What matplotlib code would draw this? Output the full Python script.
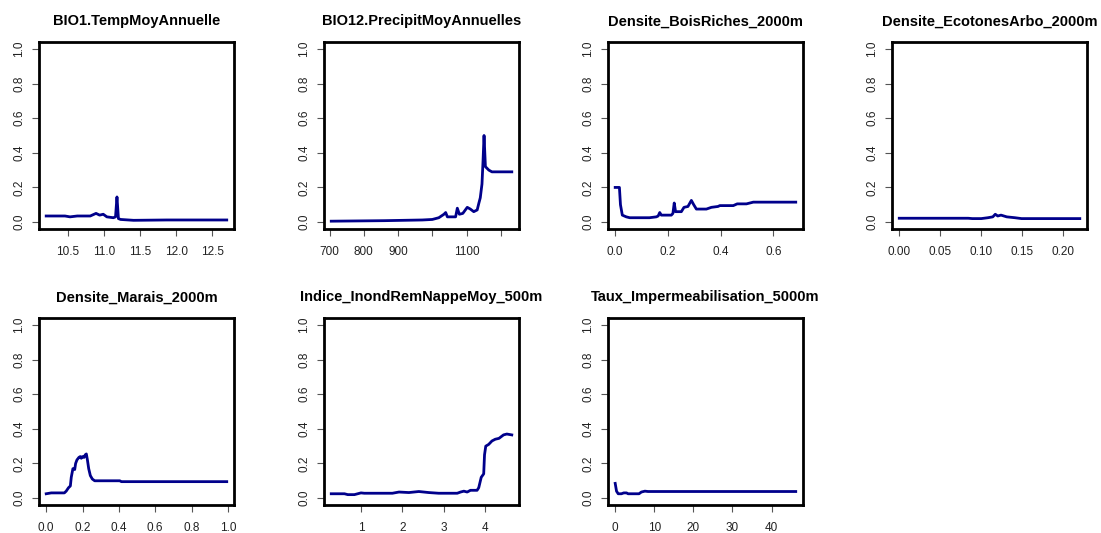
import matplotlib
matplotlib.use("Agg")
import matplotlib.pyplot as plt

plt.rcParams['font.family'] = ['Liberation Sans', 'DejaVu Sans']

# response curves
bio1_x = [10.2, 10.46, 10.53, 10.63, 10.81, 10.89, 10.94, 10.99, 11.04, 11.13, 11.16, 11.18, 11.2, 11.23, 11.41, 11.87, 12.7]
bio1_y = [0.035, 0.035, 0.03, 0.035, 0.035, 0.05, 0.04, 0.045, 0.03, 0.025, 0.03, 0.145, 0.02, 0.015, 0.01, 0.012, 0.012]

bio12_x = [705, 860, 971, 1000, 1019, 1034, 1039, 1044, 1068, 1073, 1079, 1089, 1102, 1111, 1121, 1131, 1136, 1140, 1145, 1148, 1151, 1155, 1165, 1174, 1232]
bio12_y = [0.005, 0.008, 0.012, 0.015, 0.025, 0.045, 0.055, 0.03, 0.03, 0.08, 0.045, 0.05, 0.085, 0.075, 0.06, 0.07, 0.11, 0.14, 0.22, 0.35, 0.5, 0.32, 0.30, 0.29, 0.29]

bois_x = [0.0, 0.016, 0.02, 0.027, 0.042, 0.055, 0.13, 0.156, 0.163, 0.169, 0.175, 0.213, 0.219, 0.224, 0.229, 0.251, 0.261, 0.276, 0.289, 0.298, 0.308, 0.346, 0.365, 0.39, 0.397, 0.448, 0.463, 0.498, 0.524, 0.685]
bois_y = [0.2, 0.2, 0.1, 0.04, 0.03, 0.025, 0.025, 0.03, 0.035, 0.055, 0.04, 0.04, 0.05, 0.11, 0.06, 0.06, 0.085, 0.09, 0.125, 0.10, 0.075, 0.075, 0.085, 0.09, 0.095, 0.095, 0.105, 0.105, 0.115, 0.115]

ecot_x = [0.0, 0.084, 0.089, 0.1, 0.108, 0.114, 0.117, 0.12, 0.124, 0.131, 0.141, 0.149, 0.22]
ecot_y = [0.022, 0.022, 0.02, 0.02, 0.025, 0.03, 0.045, 0.035, 0.04, 0.03, 0.025, 0.02, 0.02]

marais_x = [0.0, 0.028, 0.1, 0.11, 0.123, 0.133, 0.138, 0.147, 0.157, 0.162, 0.169, 0.18, 0.188, 0.193, 0.2, 0.208, 0.215, 0.221, 0.227, 0.234, 0.243, 0.254, 0.267, 0.405, 0.414, 0.994]
marais_y = [0.025, 0.03, 0.03, 0.04, 0.06, 0.07, 0.12, 0.17, 0.165, 0.2, 0.22, 0.235, 0.24, 0.23, 0.24, 0.235, 0.25, 0.255, 0.22, 0.17, 0.13, 0.11, 0.1, 0.1, 0.095, 0.095]

inond_x = [0.28, 0.6, 0.68, 0.84, 0.92, 1.0, 1.08, 1.76, 1.92, 2.16, 2.4, 2.64, 2.88, 3.33, 3.41, 3.49, 3.57, 3.65, 3.81, 3.85, 3.91, 3.97, 3.99, 4.02, 4.09, 4.17, 4.25, 4.34, 4.45, 4.53, 4.65]
inond_y = [0.025, 0.025, 0.02, 0.02, 0.025, 0.03, 0.028, 0.028, 0.035, 0.032, 0.038, 0.032, 0.028, 0.028, 0.035, 0.04, 0.035, 0.045, 0.045, 0.06, 0.12, 0.14, 0.25, 0.3, 0.31, 0.33, 0.34, 0.345, 0.365, 0.37, 0.365]

taux_x = [0.0, 0.34, 0.77, 1.6, 2.2, 2.9, 3.3, 6.1, 6.7, 7.6, 8.4, 46.2]
taux_y = [0.085, 0.04, 0.025, 0.025, 0.03, 0.03, 0.025, 0.025, 0.035, 0.04, 0.038, 0.038]

titles = ["BIO1.TempMoyAnnuelle", "BIO12.PrecipitMoyAnnuelles", "Densite_BoisRiches_2000m",
          "Densite_EcotonesArbo_2000m", "Densite_Marais_2000m", "Indice_InondRemNappeMoy_500m",
          "Taux_Impermeabilisation_5000m"]
xs = [bio1_x, bio12_x, bois_x, ecot_x, marais_x, inond_x, taux_x]
ys = [bio1_y, bio12_y, bois_y, ecot_y, marais_y, inond_y, taux_y]

xticks = [[10.5, 11.0, 11.5, 12.0, 12.5],
          [700, 800, 900, 1000, 1100, 1200],
          [0.0, 0.2, 0.4, 0.6],
          [0.0, 0.05, 0.10, 0.15, 0.20],
          [0.0, 0.2, 0.4, 0.6, 0.8, 1.0],
          [1, 2, 3, 4],
          [0, 10, 20, 30, 40]]
xlabels = [["10.5", "11.0", "11.5", "12.0", "12.5"],
           ["700", "800", "900", "", "1100", ""],
           ["0.0", "0.2", "0.4", "0.6"],
           ["0.00", "0.05", "0.10", "0.15", "0.20"],
           ["0.0", "0.2", "0.4", "0.6", "0.8", "1.0"],
           ["1", "2", "3", "4"],
           ["0", "10", "20", "30", "40"]]
yticks = [0.0, 0.2, 0.4, 0.6, 0.8, 1.0]
ylabels = ["0.0", "0.2", "0.4", "0.6", "0.8", "1.0"]

fig = plt.figure(figsize=(11.01, 5.33), dpi=100)
lefts = [0.0354, 0.2943, 0.5522, 0.8102]
bottoms = [0.5704, 0.0525]

for i in range(7):
    ax = fig.add_axes([lefts[i % 4], bottoms[i // 4], 0.1771, 0.3508])
    ax.plot(xs[i], ys[i], color="#00008B", lw=2)
    lo, hi = min(xs[i]), max(xs[i])
    pad = (hi - lo) * 0.04
    ax.set_xlim(lo - pad, hi + pad)
    ax.set_ylim(-0.04, 1.04)
    ax.set_xticks(xticks[i])
    ax.set_xticklabels(xlabels[i])
    ax.set_yticks(yticks)
    ax.set_yticklabels(ylabels, rotation=90, va="center")
    ax.tick_params(axis="x", length=5, width=0.8, color="#555555", labelsize=8.5, pad=7, labelcolor="#222222")
    ax.tick_params(axis="y", length=5, width=0.8, color="#555555", labelsize=8.5, pad=5, labelcolor="#222222")
    for s in ax.spines.values():
        s.set_linewidth(2)
    ax.set_title(titles[i], fontsize=10.5, fontweight="bold", pad=12)

fig.savefig("out.png", dpi=100)
